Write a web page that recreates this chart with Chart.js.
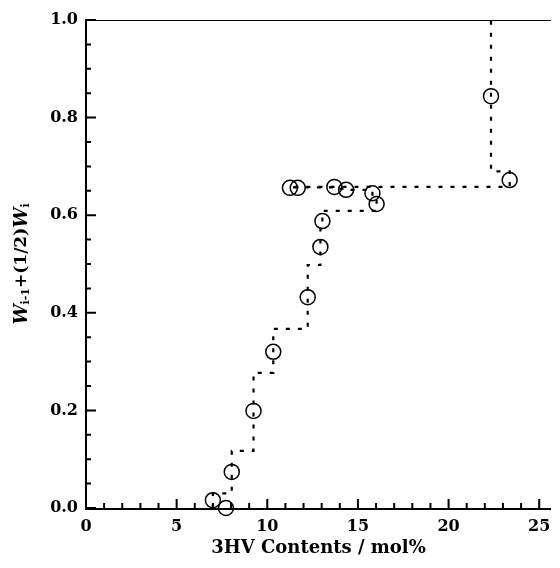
<!DOCTYPE html>
<html><head><meta charset="utf-8">
<script src="https://cdn.jsdelivr.net/npm/chart.js@4"></script>
<style>html,body{margin:0;padding:0;background:#fff}</style>
</head>
<body>
<canvas id="c" width="560" height="568"></canvas>
<script>
// ---- data ----
// fractions in order of cumulative weight
const hvContent = [7.0, 7.72, 8.04, 9.24, 10.33, 12.23, 12.93, 13.04, 16.03, 15.8, 14.35, 13.7, 11.68, 11.25, 23.37, 22.34];
const weightMid = [0.016, 0.0, 0.074, 0.199, 0.320, 0.432, 0.535, 0.588, 0.623, 0.645, 0.652, 0.658, 0.656, 0.656, 0.672, 0.844];
// cumulative weight boundaries (W_{i-1}, W_i) for the step curve
const cumBounds = [0, 0.03, 0.03, 0.117, 0.277, 0.367, 0.498, 0.572, 0.609, 0.637, 0.652, 0.654, 0.657, 0.657, 0.658, 0.690, 1.0];

const xMajorTicks = [0, 5, 10, 15, 20, 25];
const xTickLabels = ['0', '5', '10', '15', '20', '25'];
const xMinorTicks = Array.from({length: 26}, (_, i) => i);
const yMajorTicks = [0, 0.2, 0.4, 0.6, 0.8, 1.0];
const yTickLabels = ['0.0', '0.2', '0.4', '0.6', '0.8', '1.0'];
const yMinorTicks = Array.from({length: 21}, (_, i) => i * 0.05);

const xTitle = '3HV Contents / mol%';

// ---- build datasets ----
const points = hvContent.map((x, i) => ({x, y: weightMid[i]}));
const stepPts = [];
hvContent.forEach((x, i) => {
  stepPts.push({x, y: cumBounds[i]});
  stepPts.push({x, y: cumBounds[i + 1]});
});

const FONT = "'DejaVu Serif', serif";

const axesPlugin = {
  id: 'axesPlugin',
  afterDraw(chart) {
    const {ctx, chartArea: a, scales: {x, y}} = chart;
    ctx.save();
    ctx.strokeStyle = '#000';
    // top frame line
    ctx.lineWidth = 1;
    ctx.beginPath(); ctx.moveTo(a.left, a.top + 0.5); ctx.lineTo(a.right, a.top + 0.5); ctx.stroke();
    // axis lines
    ctx.lineWidth = 2;
    ctx.beginPath();
    ctx.moveTo(a.left, a.top - 1); ctx.lineTo(a.left, a.bottom + 1);
    ctx.lineTo(a.right, a.bottom + 1);
    ctx.stroke();
    // ticks (inward)
    ctx.lineWidth = 2;
    ctx.beginPath();
    xMinorTicks.forEach(v => {
      const px = x.getPixelForValue(v);
      if (px > a.right) return;
      const len = xMajorTicks.includes(v) ? 9 : 5;
      ctx.moveTo(px, a.bottom); ctx.lineTo(px, a.bottom - len);
    });
    yMinorTicks.forEach(v => {
      const py = y.getPixelForValue(v);
      const major = yMajorTicks.some(m => Math.abs(m - v) < 1e-6);
      const len = major ? 10 : 5;
      ctx.moveTo(a.left, py); ctx.lineTo(a.left + len, py);
    });
    ctx.stroke();

    // y axis title with subscripts
    ctx.translate(22, (a.top + a.bottom) / 2);
    ctx.rotate(-Math.PI / 2);
    ctx.fillStyle = '#000';
    ctx.textBaseline = 'middle';
    ctx.textAlign = 'left';
    const segs = [
      {t: 'W', f: 'italic bold 18px ' + FONT, dy: 0},
      {t: 'i-1', f: 'bold 11px ' + FONT, dy: 4},
      {t: '+(1/2)', f: 'bold 17px ' + FONT, dy: 0},
      {t: 'W', f: 'italic bold 18px ' + FONT, dy: 0},
      {t: 'i', f: 'bold 11px ' + FONT, dy: 4}
    ];
    let total = 0;
    segs.forEach(s => { ctx.font = s.f; s.w = ctx.measureText(s.t).width; total += s.w; });
    let cx = -total / 2;
    segs.forEach(s => { ctx.font = s.f; ctx.fillText(s.t, cx, s.dy); cx += s.w; });
    ctx.restore();
  }
};

new Chart(document.getElementById('c'), {
  type: 'scatter',
  data: {
    datasets: [
      {
        label: 'step',
        data: stepPts,
        showLine: true,
        borderColor: '#000',
        borderWidth: 2.2,
        borderDash: [4, 8],
        pointRadius: 0,
        fill: false,
        tension: 0,
        clip: false,
        order: 2
      },
      {
        label: 'fractions',
        data: points,
        showLine: false,
        pointRadius: 7.5,
        pointHoverRadius: 7.5,
        pointBorderWidth: 1.5,
        pointBorderColor: '#000',
        pointBackgroundColor: 'rgba(0,0,0,0)',
        clip: false,
        order: 1
      }
    ]
  },
  options: {
    responsive: false,
    animation: false,
    devicePixelRatio: 1,
    layout: {padding: {left: 0, top: 20, right: 0, bottom: 0}},
    plugins: {legend: {display: false}, tooltip: {enabled: false}},
    scales: {
      x: {
        type: 'linear', min: 0, max: 25.65,
        afterFit: s => { s.height = 60; },
        afterBuildTicks: s => { s.ticks = xMajorTicks.map(v => ({value: v})); },
        grid: {display: false},
        border: {display: false},
        ticks: {
          color: '#000', padding: 1,
          font: {family: FONT, weight: 'bold', size: 16},
          maxRotation: 0, autoSkip: false,
          callback: (v) => { const i = xMajorTicks.indexOf(v); return i >= 0 ? xTickLabels[i] : ''; }
        },
        title: {
          display: true, text: xTitle, color: '#000',
          font: {family: FONT, weight: 'bold', size: 18},
          padding: {top: 0, bottom: 9}
        }
      },
      y: {
        type: 'linear', min: 0, max: 1,
        afterFit: s => { s.width = 86; },
        afterBuildTicks: s => { s.ticks = yMajorTicks.map(v => ({value: v})); },
        grid: {display: false},
        border: {display: false},
        ticks: {
          color: '#000', padding: 0,
          font: {family: FONT, weight: 'bold', size: 16},
          autoSkip: false,
          callback: (v) => { const i = yMajorTicks.findIndex(m => Math.abs(m - v) < 1e-6); return i >= 0 ? yTickLabels[i] : ''; }
        }
      }
    }
  },
  plugins: [axesPlugin]
});
</script>
</body></html>
